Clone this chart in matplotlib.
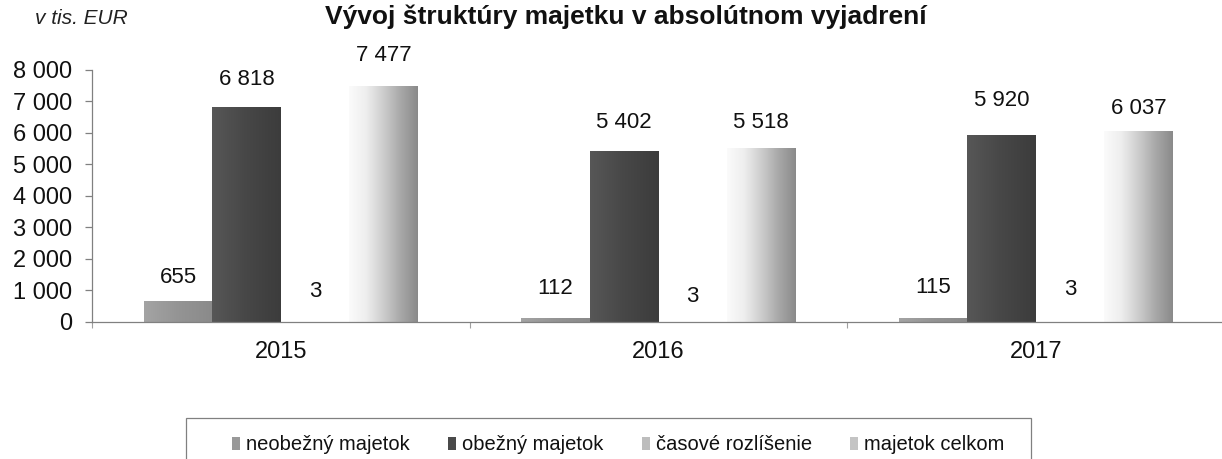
import matplotlib
matplotlib.use("Agg")
import matplotlib.pyplot as plt
import numpy as np
from matplotlib.colors import LinearSegmentedColormap
from matplotlib.patches import Patch, Rectangle
from matplotlib.ticker import FuncFormatter, FixedLocator, MultipleLocator

plt.rcParams['font.family'] = ['Liberation Sans', 'DejaVu Sans']

# ---- data ----
years = ["2015", "2016", "2017"]
series_names = ["neobežný majetok", "obežný majetok", "časové rozlíšenie", "majetok celkom"]
neobezny = [655, 112, 115]
obezny = [6818, 5402, 5920]
casove = [3, 3, 3]
celkom = [7477, 5518, 6037]
title = "Vývoj štruktúry majetku v absolútnom vyjadrení"
unit_label = "v tis. EUR"

# ---- style ----
label_offsets_px = [[24, 27, 30, 31], [30, 29, 25, 25], [31, 35, 32, 23]]
grad_colors = [
    ["#a4a4a4", "#949494", "#8a8a8a"],
    ["#575757", "#474747", "#3c3c3c"],
    ["#e6e6e6", "#d0d0d0", "#b8b8b8"],
    ["#fbfbfb", "#eeeeee", "#cdcdcd", "#a8a8a8", "#8a8a8a"],
]
legend_colors = ["#999999", "#4a4a4a", "#bdbdbd", "#c4c4c4"]

W, H = 1222, 459
fig = plt.figure(figsize=(W / 100, H / 100), dpi=100)
ax = fig.add_axes([92 / W, 1 - 322 / H, 1132.5 / W, 252.5 / H])

series = [neobezny, obezny, casove, celkom]
x = np.arange(len(years))
bw = 0.1815
offs = [-1.5, -0.5, 0.5, 1.5]

for si, vals in enumerate(series):
    bars = ax.bar(x + offs[si] * bw, vals, width=bw, color="none",
                  edgecolor="none", zorder=2)
    cmap = LinearSegmentedColormap.from_list(f"g{si}", grad_colors[si])
    grad = np.linspace(0, 1, 256).reshape(1, -1)
    for yi, b in enumerate(bars):
        x0, y0 = b.get_x(), b.get_y()
        w, h = b.get_width(), b.get_height()
        im = ax.imshow(grad, cmap=cmap, aspect="auto",
                       extent=[x0, x0 + w, y0, y0 + h], zorder=2,
                       interpolation="bilinear")
        im.set_clip_path(b)
        lbl = f"{vals[yi]:,}".replace(",", " ")
        ax.annotate(lbl, (x0 + w / 2, y0 + h),
                    xytext=(0, label_offsets_px[yi][si] * 0.72),
                    textcoords="offset points", ha="center", va="center",
                    fontsize=16, color="#111111", zorder=5)

ax.set_xlim(-0.5, 2.5)
ax.set_ylim(0, 8000)

for s in ["top", "right"]:
    ax.spines[s].set_visible(False)
for s in ["left", "bottom"]:
    ax.spines[s].set_color("#808080")
    ax.spines[s].set_linewidth(0.9)

ax.yaxis.set_major_locator(MultipleLocator(1000))
ax.yaxis.set_major_formatter(FuncFormatter(lambda v, p: f"{int(v):,}".replace(",", " ")))
ax.tick_params(axis="y", labelsize=17, length=5, width=0.9, color="#808080",
               pad=9.5, labelcolor="#111111")

ax.xaxis.set_major_locator(FixedLocator(x))
ax.set_xticklabels(years)
ax.tick_params(axis="x", which="major", length=0, labelsize=17, pad=13.5,
               labelcolor="#111111")
ax.xaxis.set_minor_locator(FixedLocator([-0.5, 0.5, 1.5, 2.5]))
ax.tick_params(axis="x", which="minor", length=4, width=0.8, color="#a0a0a0")

fig.text(325 / W, 1 - 17 / H, title, ha="left", va="center",
         fontsize=19, fontweight="bold", color="#111111")
fig.text(35 / W, 1 - 18 / H, unit_label, ha="left", va="center",
         fontsize=15, style="italic", color="#222222")

handles = [Patch(facecolor=c, edgecolor="none") for c in legend_colors]
leg = fig.legend(handles, series_names, loc="center left",
                 bbox_to_anchor=(232 / W, 1 - 445 / H), ncol=4,
                 fontsize=14.5, frameon=False,
                 handlelength=0.4, handleheight=0.65, handletextpad=0.3,
                 columnspacing=1.9, borderpad=0, borderaxespad=0)
for t in leg.get_texts():
    t.set_color("#111111")

fig.canvas.draw()
ext = leg.get_window_extent()
box_left = 186
box_right = ext.x1 + 26
fig.patches.append(Rectangle((box_left / W, -0.05), (box_right - box_left) / W,
                             (1 - 418 / H) + 0.05, transform=fig.transFigure,
                             facecolor="none", edgecolor="#808080", linewidth=0.9))

fig.savefig("out.png", dpi=100)
